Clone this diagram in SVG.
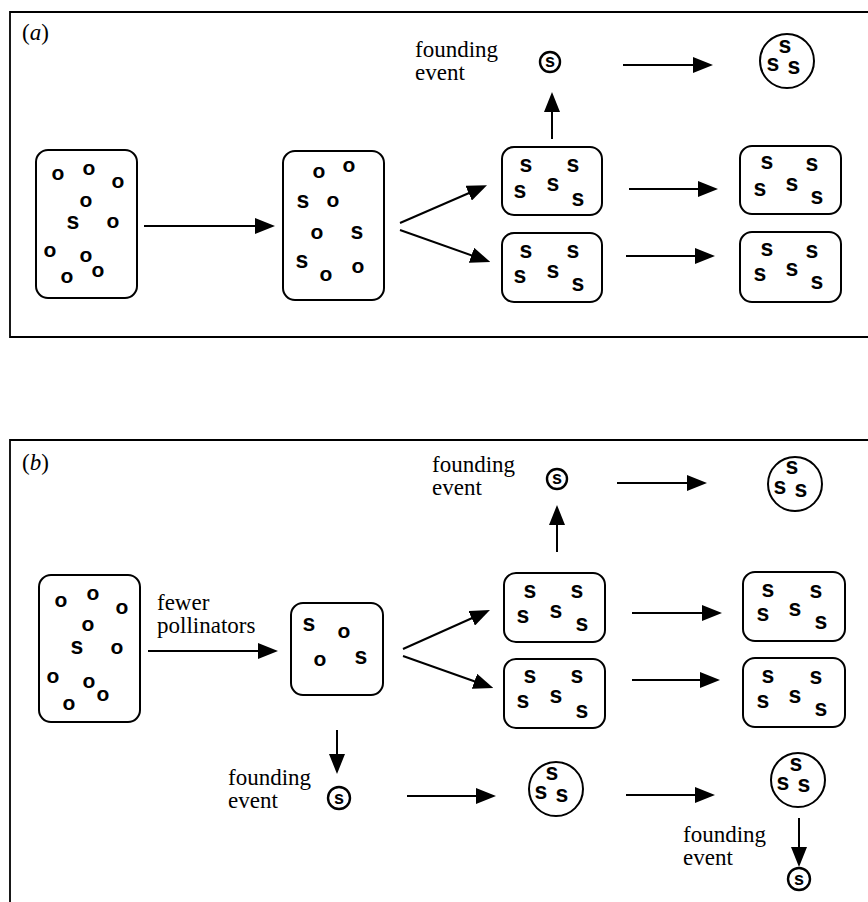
<svg xmlns="http://www.w3.org/2000/svg" width="868" height="902" viewBox="0 0 868 902">
<style>
.frame{fill:none;stroke:#000;stroke-width:1.8}
.box{fill:#fff;stroke:#000;stroke-width:2}
.circ{fill:#fff;stroke:#000;stroke-width:2}
.sc{fill:#fff;stroke:#000;stroke-width:2.4}
.s{font-family:"Liberation Sans",Arial,sans-serif;font-weight:bold;font-size:23px;text-anchor:middle;fill:#000}
.ss{font-family:"Liberation Sans",Arial,sans-serif;font-weight:bold;font-size:18px;text-anchor:middle;fill:#000}
.o{font-family:"Liberation Sans",Arial,sans-serif;font-weight:bold;font-size:21px;text-anchor:middle;fill:#000}
.lbl{font-family:"Liberation Serif","Times New Roman",serif;font-size:23px;fill:#000}
.arr{stroke:#000;stroke-width:2;fill:none}
</style>
<defs>
<marker id="ah" markerUnits="userSpaceOnUse" markerWidth="20" markerHeight="16" refX="8" refY="8" orient="auto">
<path d="M0,0 L20,8 L0,16 z" fill="#000"/>
</marker>
</defs>

<path class="frame" d="M868,12 H10 V337 H868"/>
<path class="frame" d="M868,440 H10 V902"/>
<text class="lbl" x="22" y="40">(<tspan font-style="italic">a</tspan>)</text>
<text class="lbl" x="22" y="470">(<tspan font-style="italic">b</tspan>)</text>

<g id="connectors">
<line class="arr" x1="144" y1="226" x2="263" y2="226" marker-end="url(#ah)"/>
<line class="arr" x1="400" y1="223" x2="476" y2="190" marker-end="url(#ah)"/>
<line class="arr" x1="400" y1="230" x2="479" y2="258" marker-end="url(#ah)"/>
<line class="arr" x1="552" y1="139" x2="552" y2="104" marker-end="url(#ah)"/>
<line class="arr" x1="623" y1="65" x2="701" y2="65" marker-end="url(#ah)"/>
<line class="arr" x1="629" y1="189" x2="706" y2="189" marker-end="url(#ah)"/>
<line class="arr" x1="626" y1="256" x2="703" y2="256" marker-end="url(#ah)"/>

<line class="arr" x1="148" y1="651" x2="266" y2="651" marker-end="url(#ah)"/>
<line class="arr" x1="403" y1="649" x2="479" y2="615" marker-end="url(#ah)"/>
<line class="arr" x1="403" y1="656" x2="482" y2="684" marker-end="url(#ah)"/>
<line class="arr" x1="557" y1="552" x2="557" y2="517" marker-end="url(#ah)"/>
<line class="arr" x1="617" y1="483" x2="695" y2="483" marker-end="url(#ah)"/>
<line class="arr" x1="632" y1="613" x2="710" y2="613" marker-end="url(#ah)"/>
<line class="arr" x1="632" y1="680" x2="708" y2="680" marker-end="url(#ah)"/>
<line class="arr" x1="337" y1="730" x2="337" y2="762" marker-end="url(#ah)"/>
<line class="arr" x1="407" y1="796" x2="484" y2="796" marker-end="url(#ah)"/>
<line class="arr" x1="626" y1="795" x2="703" y2="795" marker-end="url(#ah)"/>
<line class="arr" x1="799" y1="818" x2="799" y2="855" marker-end="url(#ah)"/>
</g>

<!-- Panel a -->
<g id="a-pop1">
<rect class="box" x="36" y="150" width="101" height="148" rx="12"/>
<text class="o" x="58" y="180">o</text><text class="o" x="89" y="175">o</text><text class="o" x="118" y="188">o</text>
<text class="o" x="86" y="207">o</text><text class="o" x="113" y="228">o</text><text class="o" x="50" y="257">o</text>
<text class="o" x="86" y="262">o</text><text class="o" x="98" y="277">o</text><text class="o" x="67" y="283">o</text>
<text class="s" x="73" y="229">s</text>
</g>
<g id="a-pop2">
<rect class="box" x="283" y="151" width="101" height="149" rx="12"/>
<text class="o" x="319" y="178">o</text><text class="o" x="349" y="172">o</text><text class="o" x="333" y="207">o</text>
<text class="o" x="317" y="239">o</text><text class="o" x="326" y="281">o</text><text class="o" x="358" y="273">o</text>
<text class="s" x="303" y="208">s</text><text class="s" x="357" y="239">s</text><text class="s" x="302" y="268">s</text>
</g>
<g id="a-pop3">
<rect class="box" x="502" y="147" width="100" height="68" rx="12"/>
<text class="s" x="526" y="172">s</text><text class="s" x="573" y="172">s</text><text class="s" x="520" y="198">s</text>
<text class="s" x="553" y="191">s</text><text class="s" x="578" y="206">s</text>
</g>
<g id="a-pop4">
<rect class="box" x="502" y="233" width="100" height="69" rx="12"/>
<text class="s" x="526" y="258">s</text><text class="s" x="573" y="258">s</text><text class="s" x="520" y="283">s</text>
<text class="s" x="553" y="278">s</text><text class="s" x="578" y="291">s</text>
</g>
<g id="a-found">
<circle class="sc" cx="550" cy="62" r="10"/>
<text class="ss" x="550" y="67">s</text>
<text class="lbl" x="415" y="57">founding<tspan x="415" dy="23">event</tspan></text>
</g>
<g id="a-found2">
<circle class="circ" cx="787" cy="61" r="27"/>
<text class="s" x="785" y="53">s</text><text class="s" x="773" y="71">s</text><text class="s" x="794" y="74">s</text>
</g>
<g id="a-pop5">
<rect class="box" x="740" y="146" width="101" height="68" rx="12"/>
<text class="s" x="767" y="169">s</text><text class="s" x="812" y="171">s</text><text class="s" x="760" y="196">s</text>
<text class="s" x="792" y="191">s</text><text class="s" x="817" y="204">s</text>
</g>
<g id="a-pop6">
<rect class="box" x="740" y="232" width="101" height="70" rx="12"/>
<text class="s" x="767" y="256">s</text><text class="s" x="812" y="258">s</text><text class="s" x="760" y="281">s</text>
<text class="s" x="792" y="276">s</text><text class="s" x="817" y="289">s</text>
</g>

<!-- Panel b -->
<g id="b-pop1">
<rect class="box" x="39" y="575" width="101" height="147" rx="12"/>
<text class="o" x="61" y="607">o</text><text class="o" x="93" y="600">o</text><text class="o" x="122" y="614">o</text>
<text class="o" x="88" y="631">o</text><text class="o" x="117" y="654">o</text><text class="o" x="53" y="683">o</text>
<text class="o" x="89" y="688">o</text><text class="o" x="103" y="701">o</text><text class="o" x="69" y="710">o</text>
<text class="s" x="77" y="654">s</text>
</g>
<g id="b-label-pollinators">
<text class="lbl" x="157" y="610">fewer<tspan x="157" dy="23">pollinators</tspan></text>
</g>
<g id="b-pop2">
<rect class="box" x="291" y="603" width="92" height="92" rx="12"/>
<text class="s" x="309" y="631">s</text><text class="s" x="361" y="664">s</text>
<text class="o" x="344" y="638">o</text><text class="o" x="320" y="666">o</text>
</g>
<g id="b-pop3">
<rect class="box" x="504" y="573" width="101" height="69" rx="12"/>
<text class="s" x="530" y="598">s</text><text class="s" x="577" y="598">s</text><text class="s" x="523" y="623">s</text>
<text class="s" x="556" y="618">s</text><text class="s" x="582" y="631">s</text>
</g>
<g id="b-pop4">
<rect class="box" x="504" y="659" width="101" height="69" rx="12"/>
<text class="s" x="530" y="683">s</text><text class="s" x="577" y="683">s</text><text class="s" x="523" y="708">s</text>
<text class="s" x="556" y="703">s</text><text class="s" x="582" y="718">s</text>
</g>
<g id="b-found-top">
<circle class="sc" cx="557" cy="479" r="10"/>
<text class="ss" x="557" y="484">s</text>
<text class="lbl" x="432" y="472">founding<tspan x="432" dy="23">event</tspan></text>
</g>
<g id="b-circ-top">
<circle class="circ" cx="795" cy="484" r="27"/>
<text class="s" x="792" y="474">s</text><text class="s" x="780" y="494">s</text><text class="s" x="801" y="497">s</text>
</g>
<g id="b-pop5">
<rect class="box" x="743" y="572" width="102" height="69" rx="12"/>
<text class="s" x="768" y="597">s</text><text class="s" x="816" y="598">s</text><text class="s" x="763" y="621">s</text>
<text class="s" x="795" y="616">s</text><text class="s" x="821" y="629">s</text>
</g>
<g id="b-pop6">
<rect class="box" x="743" y="658" width="102" height="69" rx="12"/>
<text class="s" x="768" y="683">s</text><text class="s" x="816" y="684">s</text><text class="s" x="763" y="708">s</text>
<text class="s" x="795" y="703">s</text><text class="s" x="821" y="716">s</text>
</g>
<g id="b-found-left">
<circle class="sc" cx="339" cy="798" r="11"/>
<text class="ss" x="339" y="804">s</text>
<text class="lbl" x="228" y="785">founding<tspan x="228" dy="23">event</tspan></text>
</g>
<g id="b-circ-mid">
<circle class="circ" cx="556" cy="789" r="27"/>
<text class="s" x="552" y="780">s</text><text class="s" x="541" y="799">s</text><text class="s" x="562" y="802">s</text>
</g>
<g id="b-circ-right">
<circle class="circ" cx="798" cy="780" r="27"/>
<text class="s" x="796" y="771">s</text><text class="s" x="783" y="790">s</text><text class="s" x="804" y="792">s</text>
</g>
<g id="b-found-right">
<circle class="sc" cx="799" cy="879" r="11"/>
<text class="ss" x="799" y="885">s</text>
<text class="lbl" x="683" y="842">founding<tspan x="683" dy="23">event</tspan></text>
</g>
</svg>
